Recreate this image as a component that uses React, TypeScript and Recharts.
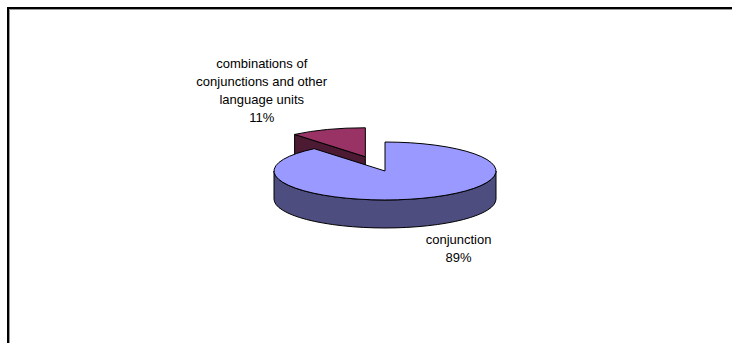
import { PieChart, Pie, Cell } from "recharts";

// slices, back slice first so it is painted under the front one
const categories = ["combinations of\nconjunctions and other\nlanguage units", "conjunction"];
const shares = [11, 89];
const exploded = [true, false];

const topColors = ["#993366", "#9999FF"];
const sideColors = ["#4D1A33", "#4D4D80"];
const labelShift = [
  [-66, -39],
  [36, 50],
];

const TILT = 0.261;
const DEPTH = 28;
const EXPLODE = 58;
const RAD = Math.PI / 180;

const data = categories.map((name, i) => ({ name, value: shares[i], explode: exploded[i], idx: i }));
const total = shares.reduce((a, b) => a + b, 0);
// first slice ends at 12 o'clock, pie runs clockwise
const START = 90 + (360 * shares[0]) / total;

function centerOf(cx: number, cy: number, midAngle: number, explode: boolean) {
  const off = explode ? EXPLODE : 0;
  return [cx + off * Math.cos(midAngle * RAD), cy - off * TILT * Math.sin(midAngle * RAD)];
}

function Slice3D(props: any) {
  const { cx, cy, outerRadius, startAngle, endAngle, payload } = props;
  const a1 = Math.max(startAngle, endAngle);
  const a2 = Math.min(startAngle, endAngle);
  const mid = (a1 + a2) / 2;
  const entry = payload?.payload ?? payload;
  const i = entry?.idx ?? 0;
  const [ox, oy] = centerOf(cx, cy, mid, !!entry?.explode);
  const rx = outerRadius;
  const ry = outerRadius * TILT;
  const pt = (a: number, dy = 0) => `${ox + rx * Math.cos(a * RAD)},${oy - ry * Math.sin(a * RAD) + dy}`;
  const large = a1 - a2 > 180 ? 1 : 0;

  const sides: string[] = [];
  for (let n = -2; n <= 2; n++) {
    const lo = Math.max(a2, -180 + 360 * n);
    const hi = Math.min(a1, 360 * n);
    if (hi > lo) {
      sides.push(
        `M${pt(hi)} A${rx},${ry} 0 0 1 ${pt(lo)} L${pt(lo, DEPTH)} A${rx},${ry} 0 0 0 ${pt(hi, DEPTH)} Z`
      );
    }
  }
  const faces: string[] = [];
  if (Math.cos(a1 * RAD) < -0.001) faces.push(`M${ox},${oy} L${pt(a1)} L${pt(a1, DEPTH)} L${ox},${oy + DEPTH} Z`);
  if (Math.cos(a2 * RAD) > 0.001) faces.push(`M${ox},${oy} L${pt(a2)} L${pt(a2, DEPTH)} L${ox},${oy + DEPTH} Z`);

  return (
    <g>
      {faces.map((d, k) => (
        <path key={"f" + k} d={d} fill={sideColors[i]} stroke="#000" strokeWidth={1} />
      ))}
      {sides.map((d, k) => (
        <path key={"s" + k} d={d} fill={sideColors[i]} stroke="#000" strokeWidth={1} />
      ))}
      <path
        d={`M${ox},${oy} L${pt(a1)} A${rx},${ry} 0 ${large} 1 ${pt(a2)} Z`}
        fill={topColors[i]}
        stroke="#000"
        strokeWidth={1}
      />
    </g>
  );
}

function renderLabel(props: any) {
  const { cx, cy, midAngle, outerRadius, percent } = props;
  const entry = props.payload?.payload ?? props.payload ?? props;
  const i = entry?.idx ?? props.index ?? 0;
  const [ox, oy] = centerOf(cx, cy, midAngle, !!entry?.explode);
  const x = ox + outerRadius * Math.cos(midAngle * RAD) + labelShift[i][0];
  const y = oy - outerRadius * TILT * Math.sin(midAngle * RAD) + labelShift[i][1];
  const lines = [...String(entry?.name ?? categories[i]).split("\n"), `${Math.round(percent * 100)}%`];
  const lh = 17.7;
  const y0 = y - ((lines.length - 1) * lh) / 2;
  return (
    <text x={x} y={y0} textAnchor="middle" fill="#000" fontSize={13} fontFamily="'Liberation Sans', Arial, sans-serif">
      {lines.map((t, k) => (
        <tspan key={k} x={x} y={y0 + k * lh} dominantBaseline="central">
          {t}
        </tspan>
      ))}
    </text>
  );
}

export default function App() {
  return (
    <div style={{ position: "fixed", left: 0, top: 0, width: 732, height: 343, background: "#fff", overflow: "hidden" }}>
      <div
        style={{
          position: "absolute",
          left: 7,
          top: 7,
          width: 800,
          height: 400,
          borderTop: "2px solid #000",
          borderLeft: "2px solid #000",
        }}
      >
        <div style={{ width: "100%", height: "100%", borderTop: "1px solid #999", borderLeft: "1px solid #999" }} />
      </div>
      <div style={{ position: "absolute", left: 0, top: 0 }}>
        <PieChart width={732} height={343} margin={{ top: 0, right: 0, bottom: 0, left: 0 }}>
          <Pie
            data={data}
            dataKey="value"
            nameKey="name"
            cx={385}
            cy={171}
            outerRadius={111}
            startAngle={START}
            endAngle={START - 360}
            stroke="none"
            isAnimationActive={false}
            shape={Slice3D}
            inactiveShape={Slice3D}
            activeShape={Slice3D}
            label={renderLabel}
            labelLine={false}
          >
            {data.map((d, i) => (
              <Cell key={d.name} fill={topColors[i]} />
            ))}
          </Pie>
        </PieChart>
      </div>
    </div>
  );
}
